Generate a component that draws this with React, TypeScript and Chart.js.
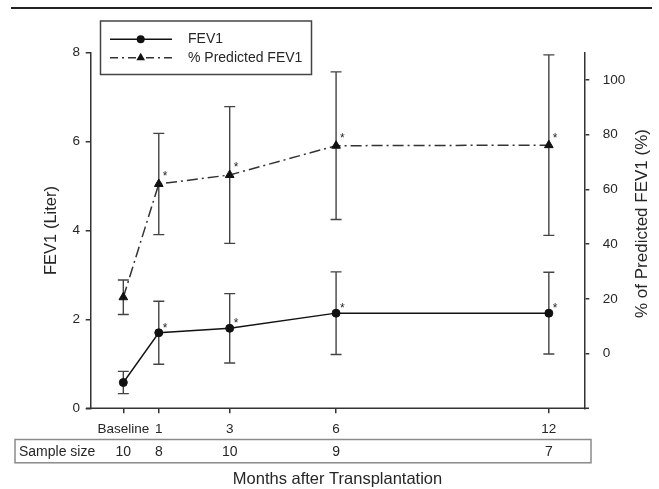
import React, { useEffect, useRef } from 'react';
import { Chart, registerables } from 'chart.js';

Chart.register(...registerables);

// ---- data ----
const months = [0, 1, 3, 6, 12];
const monthLabels = ['Baseline', '1', '3', '6', '12'];
const sampleSizes = [10, 8, 10, 9, 7];
const fev1Mean = [0.58, 1.7, 1.8, 2.14, 2.14];
const fev1Sd = [0.25, 0.71, 0.78, 0.93, 0.92];
const fev1Significant = [false, true, true, true, true];
const predMean = [20.6, 62.0, 65.3, 76.0, 76.2];
const predSd = [6.3, 18.5, 25.0, 27.0, 33.0];
const predSignificant = [false, true, true, true, true];
const leftTicks = [0, 2, 4, 6, 8];
const rightTicks = [0, 20, 40, 60, 80, 100];

const FONT = '"Liberation Sans", Arial, sans-serif';
const TEXT = '#262626';
const AXIS = '#333333';

function drawTriangle(ctx: CanvasRenderingContext2D, cx: number, cy: number, r: number) {
  const s = Math.sin(Math.PI / 3) * r;
  ctx.beginPath();
  ctx.moveTo(cx, cy - r);
  ctx.lineTo(cx - s, cy + r / 2);
  ctx.lineTo(cx + s, cy + r / 2);
  ctx.closePath();
  ctx.fill();
}

const decorPlugin = {
  id: 'decor',
  beforeDatasetsDraw(chart: any) {
    const ctx: CanvasRenderingContext2D = chart.ctx;
    const x = chart.scales.x;
    const series = [
      { mean: fev1Mean, sd: fev1Sd, axis: chart.scales.y },
      { mean: predMean, sd: predSd, axis: chart.scales.y1 },
    ];
    ctx.save();
    ctx.strokeStyle = '#444';
    ctx.lineWidth = 1.4;
    series.forEach((s) => {
      months.forEach((m, i) => {
        const px = x.getPixelForValue(m);
        const top = s.axis.getPixelForValue(s.mean[i] + s.sd[i]);
        const bot = s.axis.getPixelForValue(s.mean[i] - s.sd[i]);
        ctx.beginPath();
        ctx.moveTo(px, top);
        ctx.lineTo(px, bot);
        ctx.moveTo(px - 5.5, top);
        ctx.lineTo(px + 5.5, top);
        ctx.moveTo(px - 5.5, bot);
        ctx.lineTo(px + 5.5, bot);
        ctx.stroke();
      });
    });
    ctx.restore();
  },
  afterDraw(chart: any) {
    const ctx: CanvasRenderingContext2D = chart.ctx;
    const x = chart.scales.x;
    const y = chart.scales.y;
    const y1 = chart.scales.y1;
    const area = chart.chartArea;
    ctx.save();

    // significance asterisks
    ctx.fillStyle = TEXT;
    ctx.font = `12px ${FONT}`;
    ctx.textAlign = 'center';
    ctx.textBaseline = 'alphabetic';
    months.forEach((m, i) => {
      const px = x.getPixelForValue(m);
      if (fev1Significant[i]) ctx.fillText('*', px + 6.3, y.getPixelForValue(fev1Mean[i]) - 1);
      if (predSignificant[i]) ctx.fillText('*', px + 6.3, y1.getPixelForValue(predMean[i]) - 3.5);
    });

    // extended x axis line
    ctx.strokeStyle = AXIS;
    ctx.lineWidth = 1.5;
    ctx.beginPath();
    ctx.moveTo(area.left - 4.7, area.bottom);
    ctx.lineTo(area.right + 4.7, area.bottom);
    ctx.stroke();

    // top rule
    ctx.strokeStyle = '#222';
    ctx.lineWidth = 2;
    ctx.beginPath();
    ctx.moveTo(11, 8);
    ctx.lineTo(652, 8);
    ctx.stroke();

    // legend
    ctx.strokeStyle = '#444';
    ctx.lineWidth = 1.5;
    ctx.strokeRect(100.5, 21, 211, 53.5);
    ctx.strokeStyle = '#111';
    ctx.fillStyle = '#111';
    ctx.lineWidth = 1.4;
    ctx.beginPath();
    ctx.moveTo(110, 39.3);
    ctx.lineTo(172, 39.3);
    ctx.stroke();
    ctx.beginPath();
    ctx.arc(140.7, 39.3, 4, 0, Math.PI * 2);
    ctx.fill();
    ctx.setLineDash([8, 4, 2, 4]);
    ctx.strokeStyle = '#333';
    ctx.beginPath();
    ctx.moveTo(110, 57.7);
    ctx.lineTo(172, 57.7);
    ctx.stroke();
    ctx.setLineDash([]);
    drawTriangle(ctx, 140.7, 57.7, 5);
    ctx.fillStyle = TEXT;
    ctx.font = `14px ${FONT}`;
    ctx.textAlign = 'left';
    ctx.textBaseline = 'middle';
    ctx.fillText('FEV1', 188, 39.5);
    ctx.fillText('% Predicted FEV1', 188, 58);

    // sample size table
    ctx.strokeStyle = '#8a8a8a';
    ctx.lineWidth = 1.5;
    ctx.strokeRect(15, 439.5, 576, 23.3);
    ctx.fillStyle = TEXT;
    ctx.font = `14px ${FONT}`;
    ctx.textAlign = 'left';
    ctx.fillText('Sample size', 19, 452.5);
    ctx.textAlign = 'center';
    months.forEach((m, i) => {
      ctx.fillText(String(sampleSizes[i]), x.getPixelForValue(m), 452.5);
    });

    // bottom title
    ctx.font = `16.5px ${FONT}`;
    ctx.fillText('Months after Transplantation', (area.left + area.right) / 2, 479);

    // right title (reads bottom to top)
    ctx.translate(642, 223.5);
    ctx.rotate(-Math.PI / 2);
    ctx.font = `17px ${FONT}`;
    ctx.fillText('% of Predicted FEV1 (%)', 0, 0);

    ctx.restore();
  },
};

export default function App() {
  const canvasRef = useRef<HTMLCanvasElement | null>(null);

  useEffect(() => {
    if (!canvasRef.current) return;
    const tickFont = { family: FONT, size: 13.5 };
    const chart = new Chart(canvasRef.current, {
      type: 'line',
      data: {
        datasets: [
          {
            label: 'FEV1',
            data: months.map((m, i) => ({ x: m, y: fev1Mean[i] })),
            yAxisID: 'y',
            borderColor: '#111',
            borderWidth: 1.4,
            pointStyle: 'circle',
            pointRadius: 4,
            pointBackgroundColor: '#111',
            pointBorderColor: '#111',
            pointBorderWidth: 1,
            tension: 0,
            fill: false,
          },
          {
            label: '% Predicted FEV1',
            data: months.map((m, i) => ({ x: m, y: predMean[i] })),
            yAxisID: 'y1',
            borderColor: '#333',
            borderWidth: 1.5,
            borderDash: [11, 4, 2, 4],
            pointStyle: 'triangle',
            pointRadius: 5,
            pointBackgroundColor: '#111',
            pointBorderColor: '#111',
            pointBorderWidth: 1,
            tension: 0,
            fill: false,
          },
        ],
      },
      options: {
        responsive: false,
        animation: false,
        events: [],
        layout: { padding: { left: 0, right: 0, top: 52.7, bottom: 50.7 } },
        plugins: { legend: { display: false }, tooltip: { enabled: false }, title: { display: false } },
        scales: {
          x: {
            type: 'linear',
            min: -0.92,
            max: 13,
            afterBuildTicks: (scale: any) => {
              scale.ticks = months.map((v) => ({ value: v }));
            },
            afterFit: (scale: any) => {
              scale.height = 30;
            },
            ticks: {
              autoSkip: false,
              maxRotation: 0,
              padding: 7.5,
              color: TEXT,
              font: tickFont,
              callback: (value: any) => {
                const idx = months.indexOf(Number(value));
                return idx >= 0 ? monthLabels[idx] : '';
              },
            },
            grid: { drawOnChartArea: false, drawTicks: true, tickLength: 5, color: AXIS, lineWidth: 1.5 },
            border: { display: false },
          },
          y: {
            type: 'linear',
            position: 'left',
            min: 0,
            max: 8,
            afterBuildTicks: (scale: any) => {
              scale.ticks = leftTicks.map((v) => ({ value: v }));
            },
            afterFit: (scale: any) => {
              scale.width = 90.7;
            },
            ticks: { padding: 5.7, color: TEXT, font: tickFont },
            grid: { drawOnChartArea: false, drawTicks: true, tickLength: 5, color: AXIS, lineWidth: 1.5 },
            border: { display: true, color: AXIS, width: 1.5 },
            title: {
              display: true,
              text: 'FEV1 (Liter)',
              color: TEXT,
              font: { family: FONT, size: 16.5 },
              padding: { top: 41.8, bottom: 0 },
            },
          },
          y1: {
            type: 'linear',
            position: 'right',
            min: -20,
            max: 110,
            afterBuildTicks: (scale: any) => {
              scale.ticks = rightTicks.map((v) => ({ value: v }));
            },
            afterFit: (scale: any) => {
              scale.width = 74.7;
            },
            ticks: { padding: 13.4, color: TEXT, font: tickFont },
            grid: { drawOnChartArea: false, drawTicks: true, tickLength: 5, color: AXIS, lineWidth: 1.5 },
            border: { display: true, color: AXIS, width: 1.5 },
          },
        },
      },
      plugins: [decorPlugin],
    } as any);
    return () => chart.destroy();
  }, []);

  return (
    <div style={{ position: 'absolute', left: 0, top: 0, width: 659, height: 489, background: '#fff' }}>
      <canvas ref={canvasRef} width={659} height={489} style={{ display: 'block', width: 659, height: 489 }} />
    </div>
  );
}
